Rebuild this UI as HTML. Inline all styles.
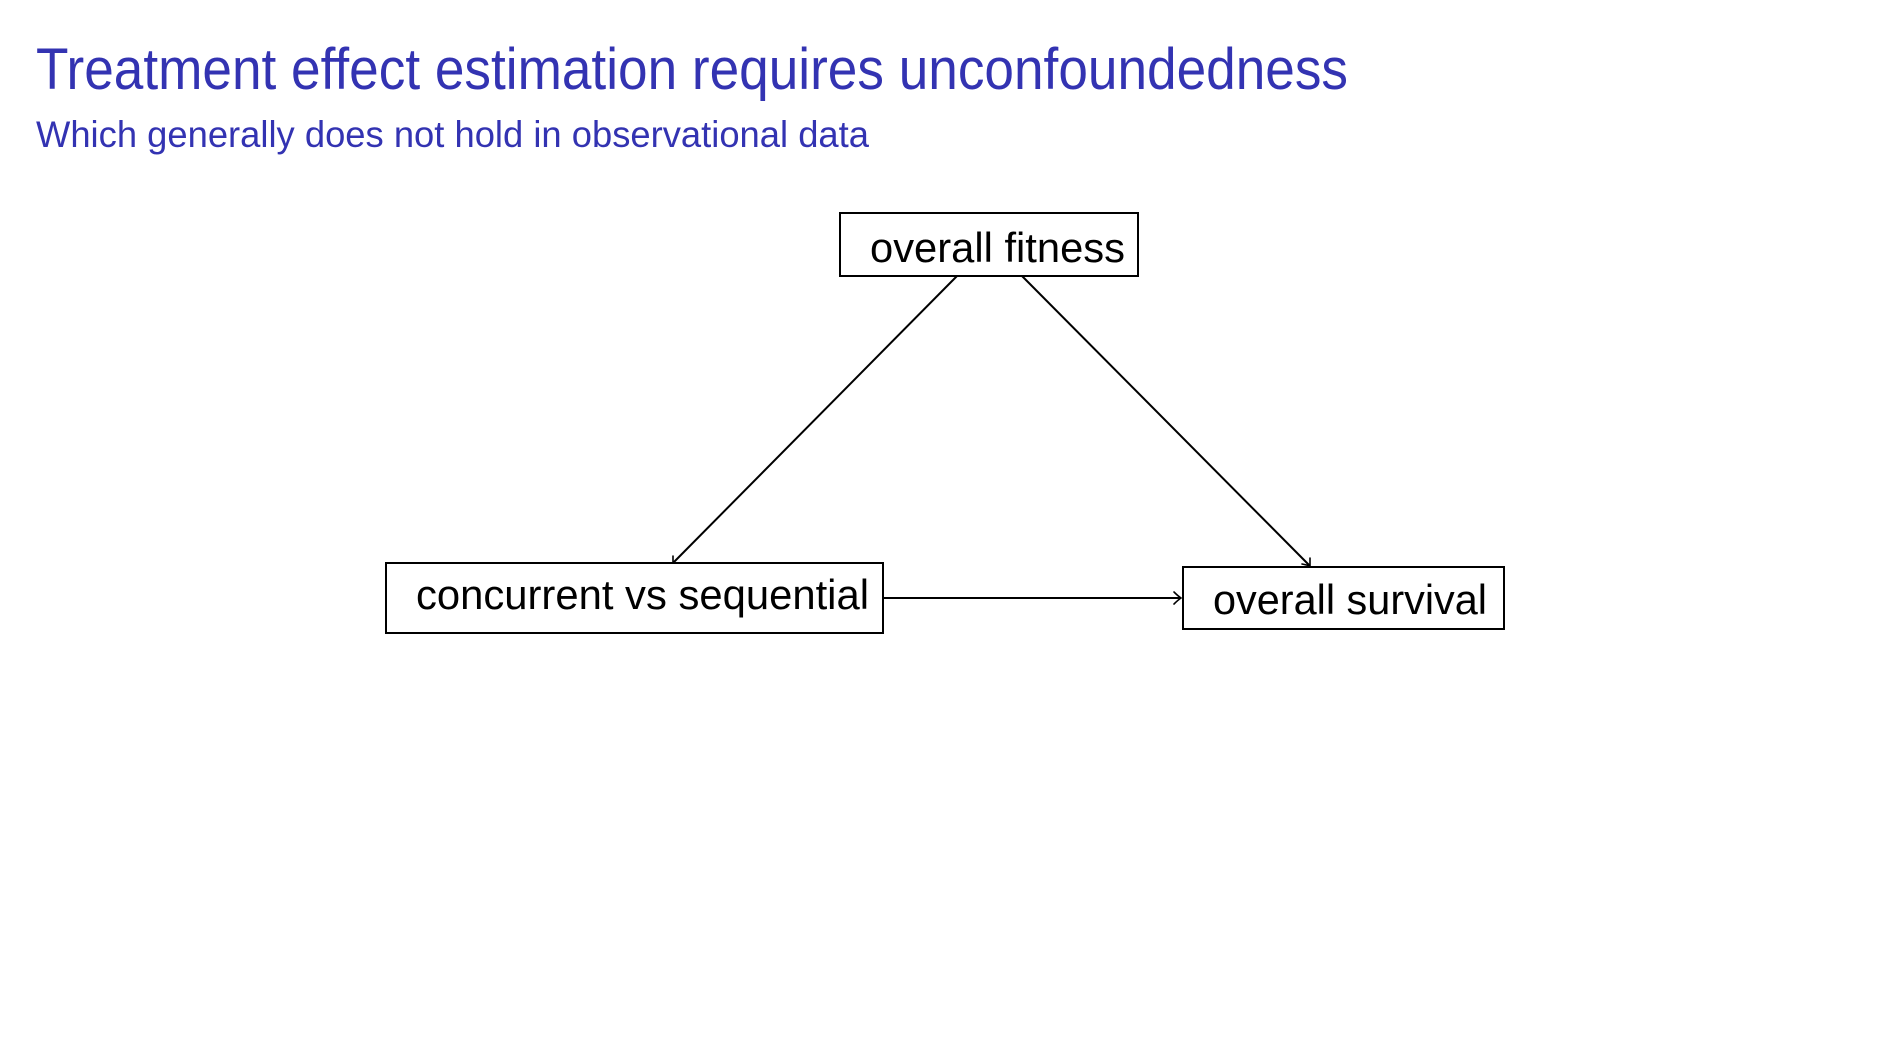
<!DOCTYPE html>
<html><head><meta charset="utf-8"><style>
html,body{margin:0;padding:0;background:#fff;}
svg{display:block;}
</style></head><body>
<svg width="1890" height="1063" viewBox="0 0 1890 1063" xmlns="http://www.w3.org/2000/svg">
<rect width="1890" height="1063" fill="#fff"/>
<g font-family="Liberation Sans, sans-serif" fill="#3333B2">
<text x="36" y="89" font-size="58" textLength="1312" lengthAdjust="spacingAndGlyphs">Treatment effect estimation requires unconfoundedness</text>
<text x="36" y="147" font-size="37" textLength="833" lengthAdjust="spacingAndGlyphs">Which generally does not hold in observational data</text>
</g>
<g fill="none" stroke="#000" stroke-width="2">
<rect x="840" y="213" width="298" height="63"/>
<rect x="386" y="563" width="497" height="70"/>
<rect x="1183" y="567" width="321" height="62"/>
<line x1="957" y1="276" x2="673" y2="563"/>
<line x1="1022" y1="276" x2="1310" y2="566"/>
<line x1="883" y1="598" x2="1181" y2="598"/>
<g stroke-width="1.6" stroke-linecap="round">
<path d="M673 556 Q673 561 673 563 Q675 563 680 563"/>
<path d="M1302 564 Q1307 565 1310 566 Q1310 563 1310 558"/>
<path d="M1174 592 Q1178 596 1181 598 Q1178 600 1174 604"/>
</g>
</g>
<g font-family="Liberation Sans, sans-serif" fill="#000" font-size="42">
<text x="870" y="262" textLength="255" lengthAdjust="spacingAndGlyphs">overall fitness</text>
<text x="416" y="609" textLength="453" lengthAdjust="spacingAndGlyphs">concurrent vs sequential</text>
<text x="1213" y="614" textLength="274" lengthAdjust="spacingAndGlyphs">overall survival</text>
</g>
</svg>
</body></html>
